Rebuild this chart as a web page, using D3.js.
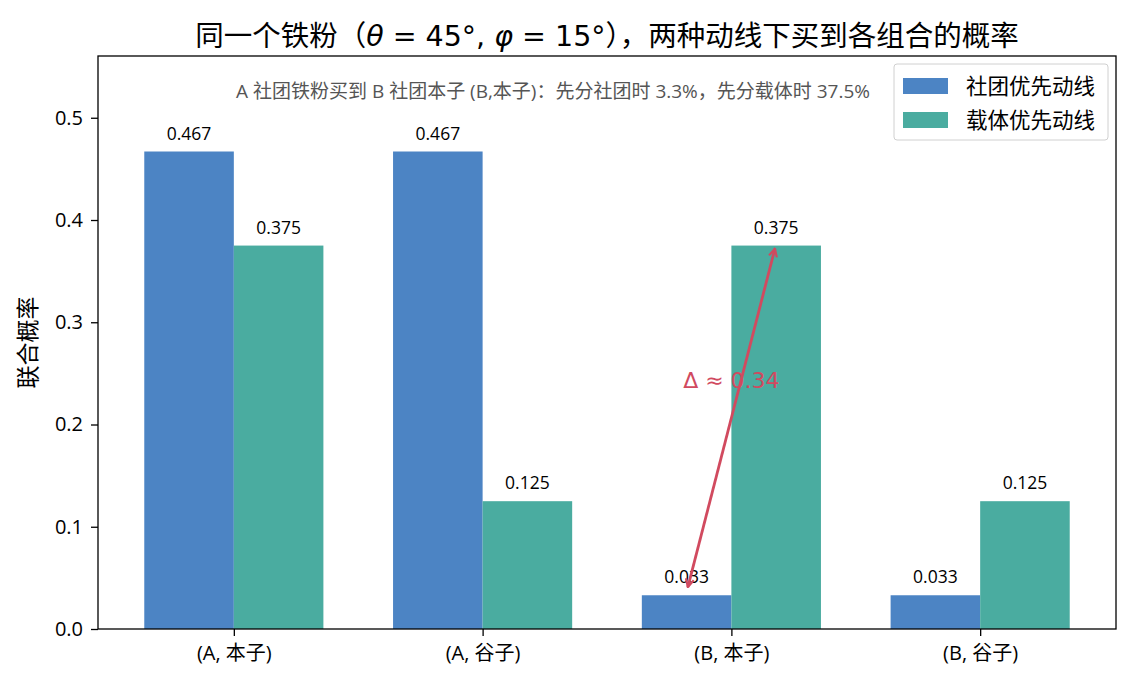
<!DOCTYPE html>
<html>
<head>
<meta charset="utf-8">
<script src="https://cdn.jsdelivr.net/npm/d3@7"></script>
<style>
  body { margin: 0; background: #fff; }
  svg { font-family: "Open Sans", "Noto Sans CJK SC", sans-serif; }
</style>
</head>
<body>
<svg id="chart"></svg>
<script>
// data
const categories = ["(A, 本子)", "(A, 谷子)", "(B, 本子)", "(B, 谷子)"];
const seriesNames = ["社团优先动线", "载体优先动线"];
const clubFirst = [0.467, 0.467, 0.033, 0.033];
const carrierFirst = [0.375, 0.125, 0.375, 0.125];
const yTicks = [0.0, 0.1, 0.2, 0.3, 0.4, 0.5];
const colors = ["#4c84c4", "#4aaca0"];

const width = 1134, height = 683;
const margin = { top: 56, right: 18, bottom: 54, left: 98 };
const innerW = width - margin.left - margin.right;
const innerH = height - margin.top - margin.bottom;
const barW = 0.36;

const svg = d3.select("#chart").attr("width", width).attr("height", height);
const chart = svg.append("g").attr("transform", `translate(${margin.left},${margin.top})`);

// matplotlib-like margins around bars
const xMin = -barW, xMax = categories.length - 1 + barW;
const pad = (xMax - xMin) * 0.05;
const x = d3.scaleLinear().domain([xMin - pad, xMax + pad]).range([0, innerW]);
const y = d3.scaleLinear().domain([0, 0.5604]).range([innerH, 0]);

const series = [clubFirst, carrierFirst];
series.forEach((vals, s) => {
    const offset = s === 0 ? -barW : 0;
    chart.selectAll(".bar" + s)
        .data(vals)
        .enter()
        .append("rect")
        .attr("x", (d, i) => x(i + offset))
        .attr("y", d => y(d))
        .attr("width", x(barW) - x(0))
        .attr("height", d => innerH - y(d))
        .attr("fill", colors[s]);

    chart.selectAll(".lbl" + s)
        .data(vals)
        .enter()
        .append("text")
        .attr("x", (d, i) => x(i + offset + barW / 2))
        .attr("y", d => y(d) - 12)
        .attr("text-anchor", "middle")
        .attr("font-size", "17.5px")
        .attr("fill", "#000")
        .text(d => d.toFixed(3));
});

// axes
const xAxis = chart.append("g")
    .attr("transform", `translate(0,${innerH})`)
    .call(d3.axisBottom(x).tickValues(d3.range(categories.length)).tickFormat(i => categories[i]).tickSize(7).tickPadding(10));
xAxis.selectAll("text").attr("font-size", "20px").attr("fill", "#000");

const yAxis = chart.append("g")
    .call(d3.axisLeft(y).tickValues(yTicks).tickFormat(d3.format(".1f")).tickSize(7).tickPadding(8));
yAxis.selectAll("text").attr("font-size", "20px").attr("fill", "#000");

[xAxis, yAxis].forEach(a => {
    a.attr("font-family", null);
    a.select(".domain").remove();
    a.selectAll("line").attr("stroke", "#000").attr("stroke-width", 1.3);
});

chart.append("rect")
    .attr("width", innerW).attr("height", innerH)
    .attr("fill", "none").attr("stroke", "#000").attr("stroke-width", 1.3);

// difference arrow
const red = "#d14a5f";
const defs = svg.append("defs");
defs.append("marker")
    .attr("id", "head")
    .attr("viewBox", "0 0 10 10")
    .attr("refX", 9).attr("refY", 5)
    .attr("markerWidth", 10).attr("markerHeight", 10)
    .attr("markerUnits", "userSpaceOnUse")
    .attr("orient", "auto-start-reverse")
    .append("path")
    .attr("d", "M1,1 L9,5 L1,9")
    .attr("fill", "none").attr("stroke", red).attr("stroke-width", 2.2);

chart.append("line")
    .attr("x1", x(2 - 0.175)).attr("y1", y(0.041))
    .attr("x2", x(2 + 0.175)).attr("y2", y(0.372))
    .attr("stroke", red).attr("stroke-width", 2.8)
    .attr("marker-start", "url(#head)")
    .attr("marker-end", "url(#head)");

chart.append("text")
    .attr("x", x(2))
    .attr("y", y(0.243))
    .attr("dy", "0.35em")
    .attr("text-anchor", "middle")
    .attr("font-size", "22px")
    .attr("font-family", "DejaVu Sans")
    .attr("fill", red)
    .text("Δ ≈ 0.34");

// note text
chart.append("text")
    .attr("x", innerW * 0.447)
    .attr("y", 35)
    .attr("dy", "0.35em")
    .attr("text-anchor", "middle")
    .attr("font-size", "19px")
    .attr("fill", "#555")
    .text("A 社团铁粉买到 B 社团本子 (B,本子)：先分社团时 3.3%，先分载体时 37.5%");

// legend
const lg = svg.append("g").attr("transform", "translate(894,64)");
lg.append("rect")
    .attr("width", 214).attr("height", 76).attr("rx", 3)
    .attr("fill", "#fff").attr("fill-opacity", 0.8)
    .attr("stroke", "#d0d0d0");
seriesNames.forEach((name, i) => {
    lg.append("rect")
        .attr("x", 9).attr("y", 14 + i * 34)
        .attr("width", 45).attr("height", 16)
        .attr("fill", colors[i]);
    lg.append("text")
        .attr("x", 72).attr("y", 22 + i * 34)
        .attr("dy", "0.35em")
        .attr("font-size", "21.5px")
        .attr("fill", "#000")
        .text(name);
});

// title
const title = svg.append("text")
    .attr("x", margin.left + innerW / 2)
    .attr("y", 46)
    .attr("text-anchor", "middle")
    .attr("font-size", "28.5px")
    .attr("fill", "#000");
title.append("tspan").text("同一个铁粉（");
title.append("tspan").attr("font-style", "italic").attr("font-family", "DejaVu Sans").text("θ");
title.append("tspan").attr("font-family", "DejaVu Sans").text(" = 45°, ");
title.append("tspan").attr("font-style", "italic").attr("font-family", "DejaVu Sans").text("φ");
title.append("tspan").attr("font-family", "DejaVu Sans").text(" = 15°");
title.append("tspan").text("），两种动线下买到各组合的概率");

// y label
svg.append("text")
    .attr("transform", `translate(36,${margin.top + innerH / 2}) rotate(-90)`)
    .attr("text-anchor", "middle")
    .attr("font-size", "23px")
    .attr("fill", "#000")
    .text("联合概率");
</script>
</body>
</html>
